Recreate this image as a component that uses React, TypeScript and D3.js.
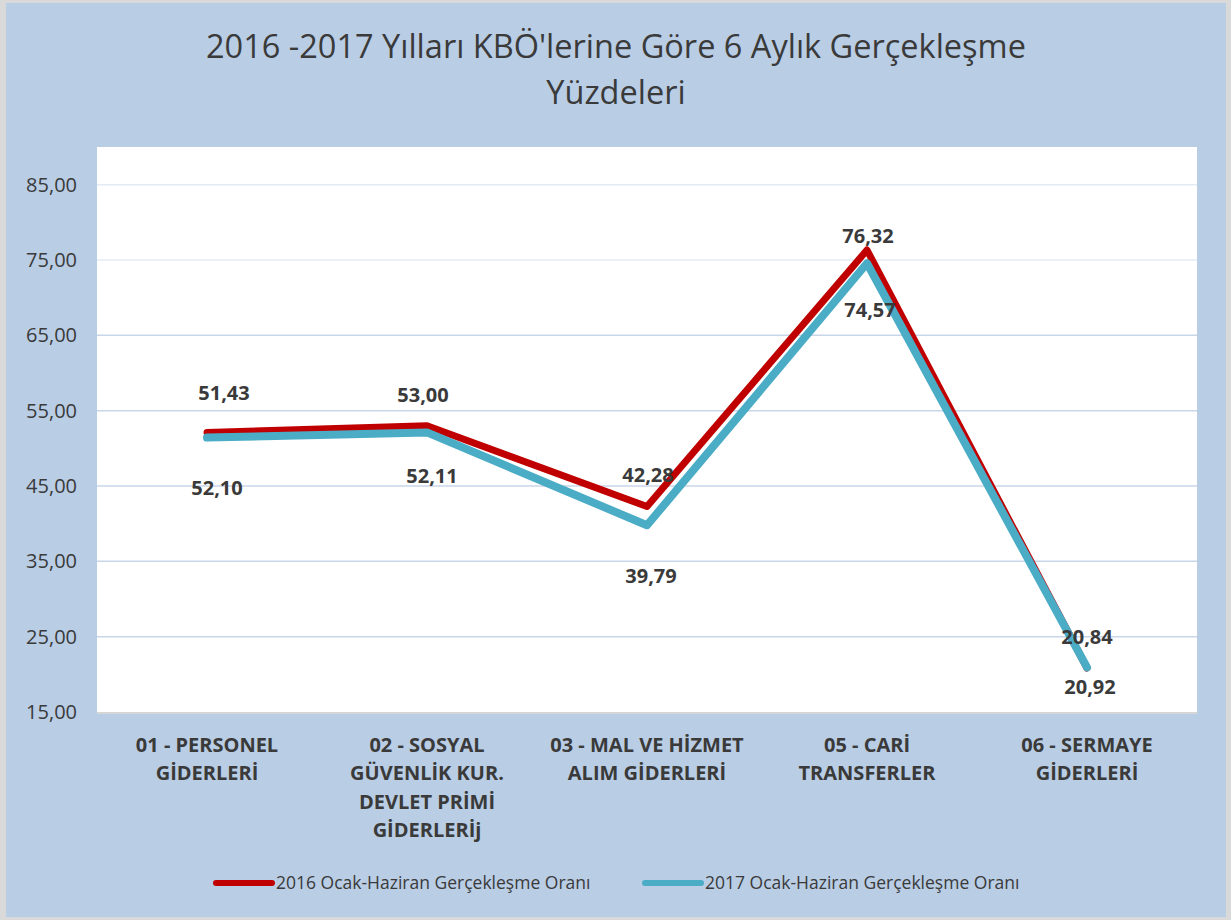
import React, { useEffect, useRef } from "react";
import * as d3 from "d3";

// chart values
const categories = [
  ["01 - PERSONEL", "GİDERLERİ"],
  ["02 - SOSYAL", "GÜVENLİK KUR.", "DEVLET PRİMİ", "GİDERLERİj"],
  ["03 - MAL VE HİZMET", "ALIM GİDERLERİ"],
  ["05 - CARİ", "TRANSFERLER"],
  ["06 - SERMAYE", "GİDERLERİ"],
];
const values2016 = [52.1, 53.0, 42.28, 76.32, 20.84];
const values2017 = [51.43, 52.11, 39.79, 74.57, 20.92];
const seriesNames = [
  "2016 Ocak-Haziran Gerçekleşme Oranı",
  "2017 Ocak-Haziran Gerçekleşme Oranı",
];
const yTicks = [15, 25, 35, 45, 55, 65, 75, 85];
const titleLines = [
  "2016 -2017 Yılları KBÖ'lerine Göre 6 Aylık Gerçekleşme",
  "Yüzdeleri",
];

// label nudges (moved by hand in the original)
const labelNudge2016 = [
  [10, 55],
  [-4, -31],
  [1, -31],
  [1, -14],
  [0, -31],
];
const labelNudge2017 = [
  [17, -45],
  [5, 44],
  [4, 51],
  [3, 47],
  [3, 20],
];

const W = 1231,
  H = 920;
const FONT = "'Open Sans', 'Noto Sans', sans-serif";
const TEXT = "#3a3a3a";

function fmt(v: number) {
  return v.toFixed(2).replace(".", ",");
}

export default function App() {
  const ref = useRef<SVGSVGElement>(null);

  useEffect(() => {
    const svg = d3.select(ref.current);
    svg.selectAll("*").remove();

    // frame
    svg.append("rect").attr("width", W).attr("height", H).attr("fill", "#d9d9d9");
    svg
      .append("rect")
      .attr("x", 6)
      .attr("y", 3)
      .attr("width", 1220)
      .attr("height", 914)
      .attr("fill", "#b9cde5");

    // title
    svg
      .append("g")
      .selectAll("text")
      .data(titleLines)
      .join("text")
      .attr("x", 616)
      .attr("y", (d, i) => 58 + i * 46)
      .attr("text-anchor", "middle")
      .style("font-family", FONT)
      .style("font-size", "32.5px")
      .attr("fill", TEXT)
      .text((d) => d);

    var left = 97,
      right = 1197,
      top = 147,
      bottom = 712;

    var x = d3
      .scaleBand()
      .domain(categories.map((d, i) => String(i)))
      .range([left, right]);
    var cx = (i: number) => x(String(i))! + x.bandwidth() / 2;

    var y = d3.scaleLinear().domain([15, 90]).range([bottom, top]);

    svg
      .append("rect")
      .attr("x", left)
      .attr("y", top)
      .attr("width", right - left)
      .attr("height", bottom - top)
      .attr("fill", "#ffffff");

    // grid
    svg
      .append("g")
      .selectAll("line")
      .data(yTicks.slice(1))
      .join("line")
      .attr("x1", left)
      .attr("x2", right)
      .attr("y1", (d) => y(d))
      .attr("y2", (d) => y(d))
      .attr("stroke", (d) => (d >= 75 ? "#e3ebf5" : "#c8d6e9"))
      .attr("stroke-width", 1.5);

    svg
      .append("line")
      .attr("x1", left)
      .attr("x2", right)
      .attr("y1", bottom + 1)
      .attr("y2", bottom + 1)
      .attr("stroke", "#d6d6d6")
      .attr("stroke-width", 2);

    // y tick labels
    svg
      .append("g")
      .selectAll("text")
      .data(yTicks)
      .join("text")
      .attr("x", 77)
      .attr("y", (d) => y(d) + 7)
      .attr("text-anchor", "end")
      .style("font-family", FONT)
      .style("font-size", "20px")
      .attr("fill", TEXT)
      .text((d) => fmt(d));

    // category labels
    var cat = svg
      .append("g")
      .selectAll("text")
      .data(categories)
      .join("text")
      .attr("text-anchor", "middle")
      .style("font-family", FONT)
      .style("font-size", "20px")
      .style("font-weight", "bold")
      .attr("fill", TEXT);
    cat
      .selectAll("tspan")
      .data((d, i) => d.map((s) => ({ s, i })))
      .join("tspan")
      .attr("x", (d) => cx(d.i))
      .attr("y", (d, j) => 752 + j * 28.3)
      .text((d) => d.s);

    // lines
    var line = d3
      .line<number>()
      .x((d, i) => cx(i))
      .y((d) => y(d));

    svg
      .append("path")
      .datum(values2016)
      .attr("d", line)
      .attr("fill", "none")
      .attr("stroke", "#c00000")
      .attr("stroke-width", 7)
      .attr("stroke-linecap", "round")
      .attr("stroke-linejoin", "round");

    svg
      .append("path")
      .datum(values2017)
      .attr("d", line)
      .attr("fill", "none")
      .attr("stroke", "#4bacc6")
      .attr("stroke-width", 8)
      .attr("stroke-linecap", "round")
      .attr("stroke-linejoin", "round");

    // data labels
    [
      [values2016, labelNudge2016],
      [values2017, labelNudge2017],
    ].forEach(([vals, nudge]: any) => {
      svg
        .append("g")
        .selectAll("text")
        .data(vals)
        .join("text")
        .attr("x", (d, i) => cx(i) + nudge[i][0])
        .attr("y", (d: any, i) => y(d) + nudge[i][1] + 7)
        .attr("text-anchor", "middle")
        .style("font-family", FONT)
        .style("font-size", "20px")
        .style("font-weight", "bold")
        .attr("fill", TEXT)
        .text((d: any) => fmt(d));
    });

    // legend
    var legendX = [216, 645];
    var colors = ["#c00000", "#4bacc6"];
    var lg = svg
      .append("g")
      .selectAll("g")
      .data(seriesNames)
      .join("g")
      .attr("transform", (d, i) => `translate(${legendX[i]}, 883)`);
    lg.append("line")
      .attr("x1", 0)
      .attr("x2", 56)
      .attr("stroke", (d, i) => colors[i])
      .attr("stroke-width", 6)
      .attr("stroke-linecap", "round");
    lg.append("text")
      .attr("x", 60)
      .attr("y", 6)
      .style("font-family", FONT)
      .style("font-size", "17.5px")
      .attr("fill", TEXT)
      .text((d) => d);
  }, []);

  return (
    <svg
      ref={ref}
      width={W}
      height={H}
      style={{ position: "absolute", left: 0, top: 0, display: "block" }}
    ></svg>
  );
}
